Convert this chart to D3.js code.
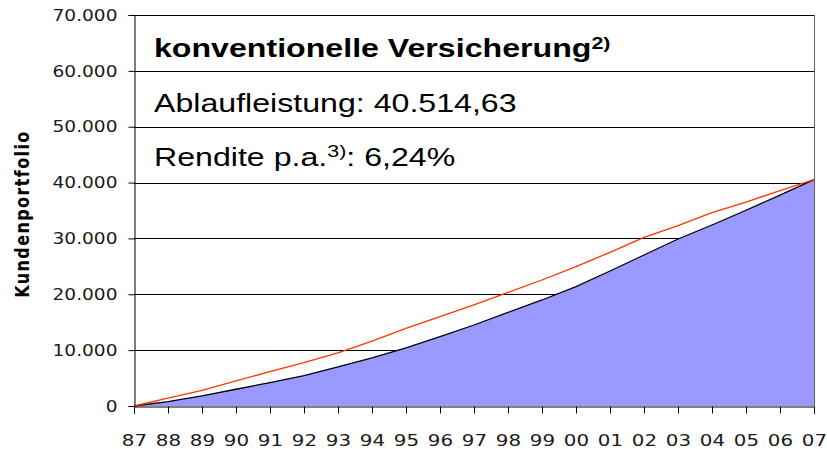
<!DOCTYPE html>
<html>
<head>
<meta charset="utf-8">
<script src="https://cdn.jsdelivr.net/npm/d3@7"></script>
<style>
  html, body { margin: 0; padding: 0; background: #fff; }
  svg { display: block; }
</style>
</head>
<body>
<svg id="chart" width="827" height="449"></svg>
<script>
// ---- data ----
const years = ["87","88","89","90","91","92","93","94","95","96","97","98","99","00","01","02","03","04","05","06","07"];
const portfolio = [0, 770, 1800, 3000, 4200, 5450, 7000, 8600, 10400, 12400, 14500, 16760, 18980, 21370, 24170, 27030, 29900, 32400, 35050, 37750, 40515];
const referenceLine = [0, 1400, 2800, 4500, 6150, 7750, 9500, 11600, 13900, 16000, 18100, 20350, 22560, 24940, 27510, 30200, 32300, 34600, 36500, 38550, 40515];
const yTicks = [0, 10000, 20000, 30000, 40000, 50000, 60000, 70000];
const yTickLabels = ["0","10.000","20.000","30.000","40.000","50.000","60.000","70.000"];
const yTitle = "Kundenportfolio";
const titleLine = "konventionelle Versicherung";
const titleSup = "2)";
const line2 = "Ablaufleistung: 40.514,63";
const line3a = "Rendite p.a.";
const line3sup = "3)";
const line3b = ": 6,24%";

// ---- layout ----
const svg = d3.select("#chart");
const mLeft = 134, mRight = 814, mTop = 15, mBottom = 406;
const SX = 1.24; // horizontal stretch of glyphs in reference
const SXT = 1.26;

const x = d3.scalePoint().domain(years).range([mLeft, mRight]);
const y = d3.scaleLinear().domain([0, 70000]).range([mBottom, mTop]);

svg.append("rect").attr("width", 827).attr("height", 449).attr("fill", "#fff");

// gridlines
svg.append("g").selectAll("line").data(yTicks.filter(d => d > 0)).join("line")
  .attr("x1", mLeft).attr("x2", mRight)
  .attr("y1", d => Math.round(y(d)) + 0.5).attr("y2", d => Math.round(y(d)) + 0.5)
  .attr("stroke", "#000").attr("stroke-width", 1);

// area
const pts = years.map((yr, i) => ({yr, v: portfolio[i], r: referenceLine[i]}));
svg.append("path").datum(pts)
  .attr("d", d3.area().x(d => x(d.yr)).y0(y(0)).y1(d => y(d.v)))
  .attr("fill", "#9999ff");

svg.append("path").datum(pts)
  .attr("d", d3.line().x(d => x(d.yr)).y(d => y(d.v)))
  .attr("fill", "none").attr("stroke", "#000").attr("stroke-width", 1.3);

svg.append("path").datum(pts)
  .attr("d", d3.line().x(d => x(d.yr)).y(d => y(d.r)))
  .attr("fill", "none").attr("stroke", "#ff3300").attr("stroke-width", 1.3);

// right border
svg.append("line").attr("x1", mRight + 0.5).attr("x2", mRight + 0.5).attr("y1", mTop).attr("y2", mBottom)
  .attr("stroke", "#666").attr("stroke-width", 1);

// y axis
const yAxis = d3.axisLeft(y).tickValues(yTicks).tickSize(6).tickPadding(0)
  .tickFormat((d, i) => yTickLabels[i]);
const gy = svg.append("g").attr("transform", `translate(${mLeft + 0.5},0)`).call(yAxis);
gy.select(".domain").attr("stroke", "#000");
gy.selectAll(".tick line").attr("stroke", "#000");
gy.selectAll(".tick text")
  .attr("x", null).attr("dy", "0.35em")
  .attr("transform", `translate(-17,0) scale(${SX},1)`)
  .attr("fill", "#1a1a1a")
  .style("font-family", "'DejaVu Sans', sans-serif").style("font-size", "15px");

// x axis
const xAxis = d3.axisBottom(x).tickSize(7).tickPadding(0);
const gx = svg.append("g").attr("transform", `translate(0,${mBottom + 0.5})`).call(xAxis);
gx.select(".domain").attr("stroke", "#000");
gx.selectAll(".tick line").attr("stroke", "#000");
gx.selectAll(".tick text")
  .attr("y", null).attr("dy", null)
  .attr("transform", `translate(0,39) scale(${SX},1)`)
  .attr("fill", "#1a1a1a")
  .style("font-family", "'DejaVu Sans', sans-serif").style("font-size", "16px");

// y title
svg.append("text")
  .attr("transform", `translate(29,214) scale(${SX},1) rotate(-90)`)
  .attr("text-anchor", "middle")
  .attr("fill", "#000")
  .style("font-family", "'DejaVu Sans', sans-serif").style("font-size", "16px").style("font-weight", "bold")
  .style("letter-spacing", "1.4px")
  .text(yTitle);

// annotation text
const tg = svg.append("g").attr("transform", `translate(154,0) scale(${SXT},1)`)
  .style("font-family", "'Liberation Sans', Arial, sans-serif").attr("fill", "#000");
const t1 = tg.append("text").attr("x", 0).attr("y", 57).style("font-size", "25.5px").style("font-weight", "bold");
t1.append("tspan").text(titleLine);
t1.append("tspan").attr("dy", -8).style("font-size", "17px").text(titleSup);

tg.append("text").attr("x", 0).attr("y", 112).style("font-size", "25.5px").text(line2);

const t3 = tg.append("text").attr("x", 0).attr("y", 166).style("font-size", "25.5px");
t3.append("tspan").text(line3a);
t3.append("tspan").attr("dy", -9).style("font-size", "17px").text(line3sup);
t3.append("tspan").attr("dy", 9).text(line3b);
</script>
</body>
</html>
